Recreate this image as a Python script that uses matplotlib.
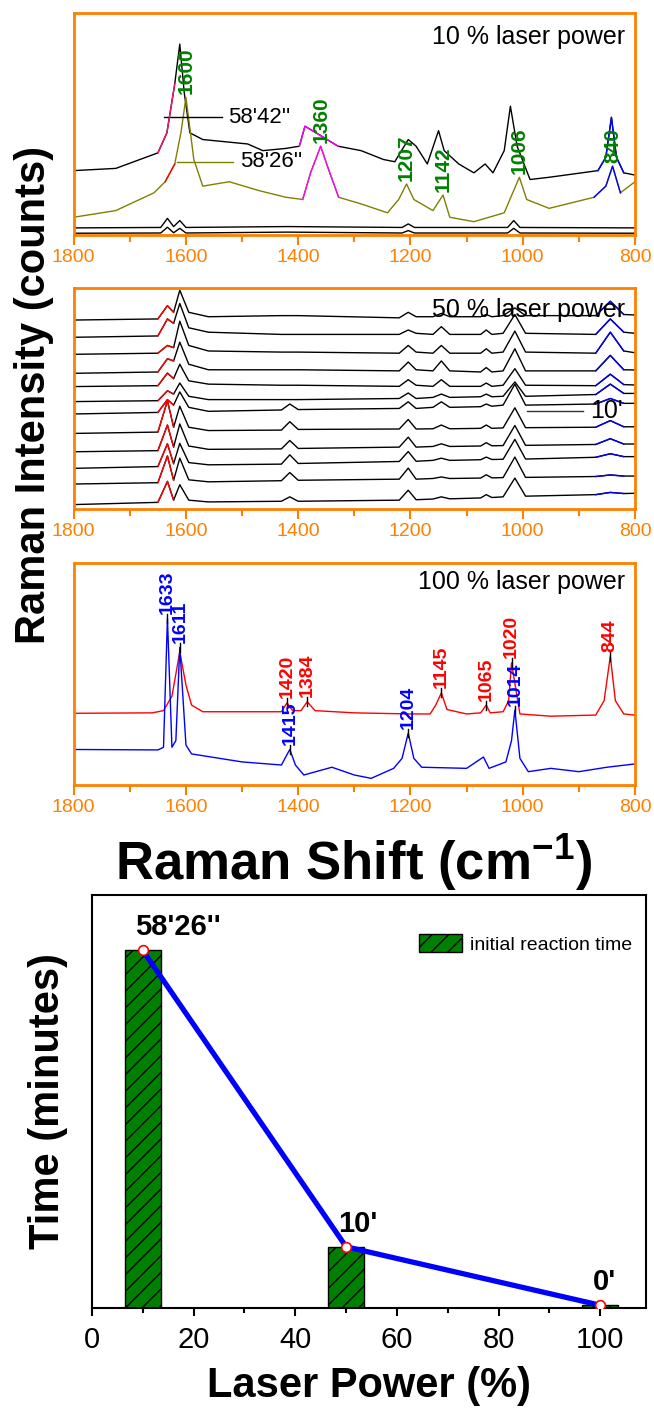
import matplotlib
matplotlib.use("Agg")
import matplotlib.pyplot as plt
from matplotlib.ticker import MultipleLocator
import numpy as np

plt.rcParams['font.family'] = ['Liberation Sans', 'DejaVu Sans']
plt.rcParams['mathtext.fontset'] = 'custom'
plt.rcParams['mathtext.bf'] = 'Liberation Sans:bold'
plt.rcParams['mathtext.rm'] = 'Liberation Sans:bold'
plt.rcParams['mathtext.default'] = 'bf'

# ---------------- panel 1 : 10 % laser power ----------------
p1_black_shift = [1800, 1725, 1650, 1634, 1620, 1611, 1603, 1593, 1570, 1490,
                  1463, 1422, 1398, 1388, 1368, 1355, 1329, 1288, 1248, 1228,
                  1204, 1190, 1170, 1150, 1140, 1114, 1087, 1067, 1053, 1033,
                  1022, 1010, 987, 953, 866, 852, 842, 833, 820, 800]
p1_black_int = [29, 30, 37, 46, 68, 86, 64, 46, 43, 41,
                38, 39, 40, 49, 46, 44, 40, 38, 34, 33,
                43, 40, 32, 47, 38, 32, 28, 32, 28, 38,
                58, 40, 25, 26, 29, 35, 53, 35, 28, 27]
p1_olive_shift = [1800, 1725, 1657, 1637, 1620, 1609, 1600, 1586, 1570, 1523,
                  1470, 1422, 1392, 1378, 1360, 1348, 1328, 1288, 1241, 1221,
                  1207, 1194, 1160, 1142, 1130, 1087, 1033, 1006, 993, 953,
                  873, 852, 840, 826, 800]
p1_olive_int = [8, 11, 19, 24, 32, 46, 62, 34, 22, 24,
                20, 17, 16, 28, 40, 31, 17, 14, 10, 16,
                23, 16, 11, 18, 8, 6, 10, 26, 16, 12,
                17, 22, 31, 19, 24]
p1_low_shift = [1800, 1645, 1633, 1622, 1611, 1600, 1420, 1215, 1204, 1193, 1027, 1016, 1005, 800]
p1_low1_int = [3.2, 3.4, 7.5, 3.8, 6.5, 3.4, 3.8, 3.4, 5, 3.4, 3.4, 6.5, 3.4, 3.2]
p1_low2_int = [0.8, 0.9, 3.5, 1.0, 3.0, 0.9, 1.3, 0.9, 2.0, 0.9, 0.9, 3.0, 0.9, 0.8]
p1_peaks = [1600, 1360, 1207, 1142, 1006, 840]

# ---------------- panel 2 : 50 % laser power (top to bottom) ----------------
p2_shift = [1800, 1650, 1633, 1622, 1611, 1595, 1560, 1430, 1415, 1400,
            1220, 1204, 1190, 1160, 1145, 1130, 1075, 1065, 1055, 1035,
            1014, 995, 870, 844, 820, 800]
p2_int = [
    [85.5, 86, 92, 89, 99, 89, 87, 87.5, 87.5, 87.5, 86.5, 89, 87, 87, 88.5, 87, 87, 88, 87, 87.5, 91, 87.5, 87.5, 94, 88, 87.8],
    [77.7, 78.3, 86, 84, 93, 82, 80, 79, 79, 79, 79, 81, 79.5, 79, 82.5, 79, 79, 81, 79, 79.5, 88, 79.5, 79, 86, 80, 79.5],
    [70, 70.5, 74, 73, 85, 74, 71.5, 71, 71, 71, 70.5, 74, 71, 70.5, 74, 70.5, 70.5, 72.5, 70.5, 71, 80.5, 71, 70.5, 80, 71.5, 70.7],
    [61.4, 62, 68, 67, 75.5, 65.5, 63, 63, 63, 63, 62.5, 66.5, 63, 62.5, 67, 62.5, 62, 64, 62, 62.5, 72.5, 62.5, 62.5, 69.5, 63, 62.9],
    [55.4, 55.8, 61.5, 59, 65.5, 58, 56.5, 56, 56, 56, 55.5, 58.5, 56, 55.5, 58.5, 55.5, 55.5, 57, 55.5, 56, 63.5, 56, 55.8, 61, 56.3, 56.1],
    [48.6, 49, 53.5, 52, 57, 51, 49.5, 49.5, 49.5, 49.5, 50, 52.5, 50, 50.5, 52, 50.5, 50.8, 52, 50.8, 51, 57.5, 51, 51.8, 56.5, 52.3, 52.3],
    [43, 43.7, 49.5, 47, 53, 46, 44.2, 44.8, 47.5, 45, 45.5, 48.5, 45.5, 46, 48.5, 46, 46.3, 47.5, 46.5, 47, 56.5, 47, 47.5, 50, 47.8, 47.8],
    [34.2, 34.8, 49, 37, 46.5, 37, 35.5, 35.7, 39.5, 36, 36.2, 40.5, 36.2, 36.3, 38, 36.3, 36.5, 38, 36.5, 36.7, 45.8, 36.8, 37, 40, 37.2, 37.2],
    [25.9, 26.4, 38, 28, 38.5, 28.5, 27, 27.2, 31, 27.4, 28, 32.5, 28, 28.3, 29.5, 28.3, 28.5, 30, 28.6, 28.7, 37.8, 28.8, 29.2, 31.8, 29.4, 29.4],
    [18.4, 19.2, 29.5, 20.5, 29.7, 21, 20, 20.3, 24.5, 20.6, 21.5, 26, 21.6, 22, 23, 22, 22.3, 23.5, 22.4, 22.5, 31.5, 22.6, 23.4, 25, 23.7, 23.7],
    [11.3, 11.9, 24, 13, 23, 13.2, 12.3, 12.8, 16.5, 13, 13.5, 18.5, 13.5, 13.8, 14.5, 13.8, 14, 15.5, 14.1, 14.2, 23.5, 14.3, 14.7, 15.4, 14.9, 14.9],
    [2, 3, 12.5, 4, 11, 4, 3.2, 3.5, 5.5, 3.5, 4, 8.5, 4.2, 4.5, 5.5, 4.6, 5, 6.5, 5.2, 5.5, 14, 5.8, 6.5, 7.5, 7, 7.1],
]

# ---------------- panel 3 : 100 % laser power ----------------
p3_red_shift = [1800, 1660, 1640, 1625, 1611, 1600, 1590, 1570, 1500, 1430,
                1420, 1410, 1395, 1384, 1370, 1300, 1200, 1165, 1155, 1145,
                1135, 1100, 1075, 1065, 1058, 1035, 1025, 1020, 1005, 950,
                870, 855, 844, 835, 820, 800]
p3_red_int = [32.3, 32.5, 33.5, 40, 60, 45, 36, 33, 33, 33,
              37, 33.5, 33.5, 37.5, 33.5, 32.5, 32, 32, 36, 41.5,
              34, 32, 32.5, 36, 32.5, 33, 38, 55, 32, 31,
              31.5, 38, 58, 38, 32, 31.5]
p3_blue_shift = [1800, 1650, 1640, 1633, 1625, 1618, 1611, 1600, 1590, 1500,
                 1430, 1415, 1405, 1390, 1340, 1300, 1270, 1230, 1215, 1204,
                 1194, 1180, 1100, 1070, 1060, 1030, 1020, 1014, 1005, 990,
                 950, 900, 850, 800]
p3_blue_int = [16, 15.8, 17, 75, 17, 20, 62, 18, 14, 10.4,
               9, 16, 9, 4.5, 8, 4.5, 3, 7.5, 12, 23.4,
               12, 8, 7.5, 12.6, 7.5, 10.4, 20, 33.8, 12, 6,
               7.5, 6, 8, 9.5]
p3_blue_peaks = [1633, 1611, 1415, 1204, 1014]
p3_red_peaks = [1420, 1384, 1145, 1065, 1020, 844]

# ---------------- bottom panel ----------------
laser_power = [10, 50, 100]
reaction_time = [58 + 26 / 60, 10.0, 0.45]
time_labels = ["58'26''", "10'", "0'"]

ORANGE = '#FF8000'
W, H = 654, 1409


def box(l, t, r, b):
    return [l / W, 1 - b / H, (r - l) / W, (b - t) / H]


def seg(ax, xs, ys, lo, hi, color, lw=1.0):
    xs = np.array(xs)
    ys = np.array(ys)
    m = (xs >= lo) & (xs <= hi)
    ax.plot(xs[m], ys[m], color=color, lw=lw, zorder=3)


fig = plt.figure(figsize=(6.54, 14.09), dpi=100)
ax1 = fig.add_axes(box(73.7, 13, 635, 235))
ax2 = fig.add_axes(box(73.7, 288, 635, 509))
ax3 = fig.add_axes(box(73.7, 563, 635, 785))
ax4 = fig.add_axes(box(92, 895, 646, 1308))

for ax in (ax1, ax2, ax3):
    ax.set_xlim(1800, 800)
    ax.set_ylim(0, 100)
    ax.xaxis.set_major_locator(MultipleLocator(200))
    ax.xaxis.set_minor_locator(MultipleLocator(100))
    ax.set_yticks([])
    for s in ax.spines.values():
        s.set_color(ORANGE)
        s.set_linewidth(2)
    ax.tick_params(axis='x', which='both', direction='out', color=ORANGE,
                   labelcolor=ORANGE, width=1.5, labelsize=14, pad=3)
    ax.tick_params(axis='x', which='major', length=7)
    ax.tick_params(axis='x', which='minor', length=5)

# panel 1
ax1.plot(p1_black_shift, p1_black_int, color='black', lw=1.0)
ax1.plot(p1_olive_shift, p1_olive_int, color='#808000', lw=1.0)
ax1.plot(p1_low_shift, p1_low1_int, color='black', lw=1.0)
ax1.plot(p1_low_shift, p1_low2_int, color='black', lw=1.0)
seg(ax1, p1_black_shift, p1_black_int, 1620, 1650, '#FF1070')
seg(ax1, p1_black_shift, p1_black_int, 1329, 1398, '#FF00FF')
seg(ax1, p1_black_shift, p1_black_int, 820, 866, '#0000FF')
seg(ax1, p1_olive_shift, p1_olive_int, 1620, 1637, '#FF0000')
seg(ax1, p1_olive_shift, p1_olive_int, 1328, 1392, '#FF00FF')
seg(ax1, p1_olive_shift, p1_olive_int, 826, 873, '#0000FF')
olive = dict(zip(p1_olive_shift, p1_olive_int))
for p in p1_peaks:
    ax1.text(p, olive[p] + 1.5, str(p), rotation=90, ha='center', va='bottom',
             color='#008000', fontsize=15, fontweight='bold', zorder=5)
ax1.plot([1640, 1536], [53, 53], color='black', lw=1.0)
ax1.text(1525, 53, "58'42''", fontsize=16, va='center', ha='left')
ax1.plot([1616, 1516], [33, 33], color='#808000', lw=1.0)
ax1.text(1504, 33, "58'26''", fontsize=16, va='center', ha='left')
ax1.text(0.982, 0.89, '10 % laser power', transform=ax1.transAxes,
         fontsize=18, ha='right', va='center')

# panel 2
for row in p2_int:
    ax2.plot(p2_shift, row, color='black', lw=1.0)
    seg(ax2, p2_shift, row, 1622, 1650, '#FF0000')
    seg(ax2, p2_shift, row, 820, 870, '#0000FF')
ax2.plot([993, 893], [44.5, 44.5], color='#333333', lw=1.0)
ax2.text(880, 44.5, "10'", fontsize=18, va='center', ha='left')
ax2.text(0.982, 0.90, '50 % laser power', transform=ax2.transAxes,
         fontsize=18, ha='right', va='center', zorder=6)

# panel 3
ax3.plot(p3_red_shift, p3_red_int, color='#FF0000', lw=1.0)
ax3.plot(p3_blue_shift, p3_blue_int, color='#0000FF', lw=1.0)
red = dict(zip(p3_red_shift, p3_red_int))
blue = dict(zip(p3_blue_shift, p3_blue_int))
for peaks, lut, col in ((p3_red_peaks, red, '#FF0000'), (p3_blue_peaks, blue, '#0000FF')):
    for p in peaks:
        ax3.plot([p, p], [lut[p] - 2, lut[p] + 2], color='black', lw=1.0, zorder=4)
        ax3.text(p, lut[p] + 2, str(p), rotation=90, ha='center', va='bottom',
                 color=col, fontsize=14, fontweight='bold', zorder=5)
ax3.text(0.982, 0.915, '100 % laser power', transform=ax3.transAxes,
         fontsize=18, ha='right', va='center')

fig.text(34 / W, 1 - 395 / H, 'Raman Intensity (counts)', rotation=90,
         fontsize=30, fontweight='bold', ha='center', va='center')
fig.text(354 / W, 1 - 880 / H, r'Raman Shift (cm$^{-1}$)',
         fontsize=38, fontweight='bold', ha='center', va='baseline')

# bottom panel
ax4.bar(laser_power, reaction_time, width=7, color='#008000', edgecolor='black',
        linewidth=1.0, hatch='//', label='initial reaction time', zorder=2)
ax4.plot(laser_power, reaction_time, color='#0000FF', lw=3.8, zorder=3)
ax4.plot(laser_power, reaction_time, 'o', ms=7, mfc='white', mec='red', mew=1.2, zorder=4)
for p, t, lab in zip(laser_power, reaction_time, time_labels):
    ax4.text(p - 1.5, t + 1.5, lab, ha='left', va='bottom', fontsize=21, fontweight='bold')
ax4.set_xlim(0, 109)
ax4.set_ylim(0, 67.5)
ax4.set_yticks([])
ax4.xaxis.set_major_locator(MultipleLocator(20))
ax4.xaxis.set_minor_locator(MultipleLocator(10))
for s in ax4.spines.values():
    s.set_linewidth(1.5)
ax4.tick_params(axis='x', which='both', direction='out', width=1.5, labelsize=21, pad=7)
ax4.tick_params(axis='x', which='major', length=6)
ax4.tick_params(axis='x', which='minor', length=3.5)
ax4.legend(loc='upper right', bbox_to_anchor=(0.975, 0.905), frameon=False, fontsize=14,
           handlelength=2.2, handleheight=1.0, handletextpad=0.4, borderpad=0, borderaxespad=0)
fig.text(48 / W, 1 - 1101 / H, 'Time (minutes)', rotation=90, fontsize=30,
         fontweight='bold', ha='center', va='center')
fig.text(369 / W, 1 - 1397 / H, 'Laser Power (%)', fontsize=30,
         fontweight='bold', ha='center', va='baseline')

fig.savefig('out.png', dpi=100)
